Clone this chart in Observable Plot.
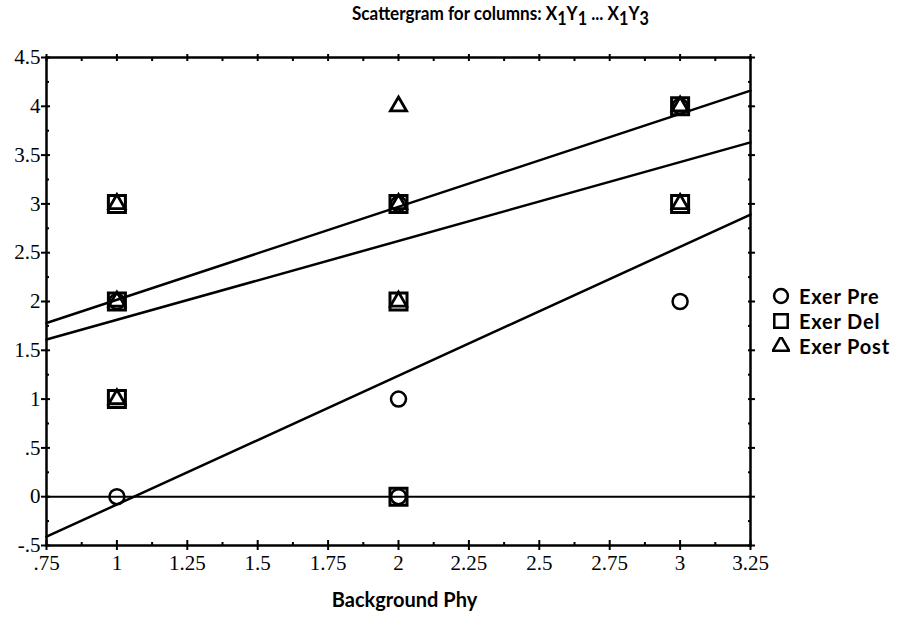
<!DOCTYPE html>
<html><head><meta charset="utf-8">
<script src="https://cdn.jsdelivr.net/npm/d3@7"></script>
<script src="https://cdn.jsdelivr.net/npm/@observablehq/plot@0.6"></script>
<style>
body{margin:0;background:#fff;width:920px;height:618px;overflow:hidden;position:relative;}
#title{position:absolute;left:352px;top:1px;font-family:Lato,sans-serif;font-weight:700;font-size:19px;color:#000;white-space:nowrap;transform:scaleX(0.9);transform-origin:0 0;}
#title sub{font-size:18px;vertical-align:-5px;line-height:0;}
#chart{position:absolute;left:0;top:0;}
#legend{position:absolute;left:772px;top:283px;font-family:Lato,sans-serif;font-weight:700;font-size:20px;letter-spacing:0.8px;color:#000;}
#legend div{height:25px;display:flex;align-items:center;}
#legend svg{margin-right:9px;}
</style></head><body>
<div id="chart"></div>
<div id="title">Scattergram for columns: X<sub>1</sub>Y<sub>1</sub> ... X<sub>1</sub>Y<sub>3</sub></div>
<div id="legend"></div>
<script>
// series
const seriesNames = ["Exer Pre", "Exer Del", "Exer Post"];
const seriesSymbols = ["circle", "square", "triangle"];
const preX = [1, 1, 2, 2, 2, 3, 3];
const preY = [0, 2, 0, 1, 3, 2, 4];
const delX = [1, 1, 1, 2, 2, 2, 3, 3];
const delY = [1, 2, 3, 0, 2, 3, 3, 4];
const postX = [1, 1, 1, 2, 2, 2, 3, 3];
const postY = [1, 2, 3, 2, 3, 4, 3, 4];
// regression lines (values at the two ends of the x range)
const fitX = [0.75, 3.25];
const preFit = [-0.41, 2.89];
const delFit = [1.61, 3.63];
const postFit = [1.78, 4.16];
// ticks
const xTicks = [0.75, 1, 1.25, 1.5, 1.75, 2, 2.25, 2.5, 2.75, 3, 3.25];
const xTickLabels = [".75", "1", "1.25", "1.5", "1.75", "2", "2.25", "2.5", "2.75", "3", "3.25"];
const xMinor = [0.875, 1.125, 1.375, 1.625, 1.875, 2.125, 2.375, 2.625, 2.875, 3.125];
const yTicks = [-0.5, 0, 0.5, 1, 1.5, 2, 2.5, 3, 3.5, 4, 4.5];
const yTickLabels = ["-.5", "0", ".5", "1", "1.5", "2", "2.5", "3", "3.5", "4", "4.5"];
const yMinor = [-0.25, 0.25, 0.75, 1.25, 1.75, 2.25, 2.75, 3.25, 3.75, 4.25];

const xs = [preX, delX, postX], ys = [preY, delY, postY], fits = [preFit, delFit, postFit];
const points = [];
seriesNames.forEach((s, k) => xs[k].forEach((x, i) => points.push({series: s, x, y: ys[k][i]})));
const lines = [];
seriesNames.forEach((s, k) => fitX.forEach((x, i) => lines.push({series: s, x, y: fits[k][i]})));

const xLab = new Map(xTicks.map((d, i) => [d, xTickLabels[i]]));
const yLab = new Map(yTicks.map((d, i) => [d, yTickLabels[i]]));
const tickFont = {fontFamily: "Liberation Serif", fontSize: 21};
const symR = {"Exer Pre": 7.5, "Exer Del": 9.6, "Exer Post": 6};
const symW = {"Exer Pre": 2.5, "Exer Del": 3, "Exer Post": 2.8};
const noLab = {label: null, strokeWidth: 2};

const chart = Plot.plot({
  width: 920, height: 618,
  marginLeft: 46, marginRight: 170, marginTop: 57, marginBottom: 73,
  x: {domain: [0.75, 3.25]},
  y: {domain: [-0.5, 4.5]},
  style: {background: "#fff", color: "#000", fontSize: "21px"},
  marks: [
    Plot.ruleY([0], {stroke: "#000", strokeWidth: 2}),
    Plot.line(lines, {x: "x", y: "y", z: "series", stroke: "#000", strokeWidth: 2.5}),
    ...seriesNames.map((s, k) => Plot.dot(points.filter(d => d.series === s), {
      x: "x", y: "y", symbol: () => seriesSymbols[k], r: symR[s], stroke: "#000", strokeWidth: symW[s], fill: "none"
    })),
    Plot.frame({stroke: "#000", strokeWidth: 2.5}),
    Plot.axisX(xTicks, {anchor: "bottom", tickSize: 5, tickPadding: 5, tickFormat: d => xLab.get(d), ...tickFont, ...noLab}),
    Plot.axisX(xTicks, {anchor: "bottom", tickSize: -5, text: null, ...noLab}),
    Plot.axisX(xMinor, {anchor: "bottom", tickSize: -3, text: null, ...noLab}),
    Plot.axisX(xTicks, {anchor: "top", tickSize: 4, text: null, ...noLab}),
    Plot.axisX(xTicks.concat(xMinor), {anchor: "top", tickSize: -3, text: null, ...noLab}),
    Plot.axisY(yTicks, {anchor: "left", tickSize: 5, tickPadding: 1, tickFormat: d => yLab.get(d), ...tickFont, ...noLab}),
    Plot.axisY(yTicks, {anchor: "left", tickSize: -4, text: null, ...noLab}),
    Plot.axisY(yMinor, {anchor: "left", tickSize: -3, text: null, ...noLab}),
    Plot.axisY(yTicks, {anchor: "right", tickSize: 4, text: null, ...noLab}),
    Plot.axisY(yTicks.concat(yMinor), {anchor: "right", tickSize: -3, text: null, ...noLab}),
    Plot.text(["Background Phy"], {frameAnchor: "bottom", dy: 61, dx: 6, fontFamily: "Lato", fontWeight: "bold", fontSize: 20, fill: "#000"})
  ]
});
document.getElementById("chart").append(chart);

// legend
const legend = d3.select("#legend");
seriesNames.forEach((s, k) => {
  const row = legend.append("div");
  const svg = row.append("svg").attr("width", 18).attr("height", 18);
  svg.append("path")
    .attr("transform", "translate(9,9)")
    .attr("d", d3.symbol(k === 0 ? d3.symbolCircle : k === 1 ? d3.symbolSquare : d3.symbolTriangle, k === 0 ? 150 : k === 1 ? 180 : 120)())
    .attr("fill", "none").attr("stroke", "#000").attr("stroke-width", 2.5);
  row.append("span").text(s);
});
</script>
</body></html>
